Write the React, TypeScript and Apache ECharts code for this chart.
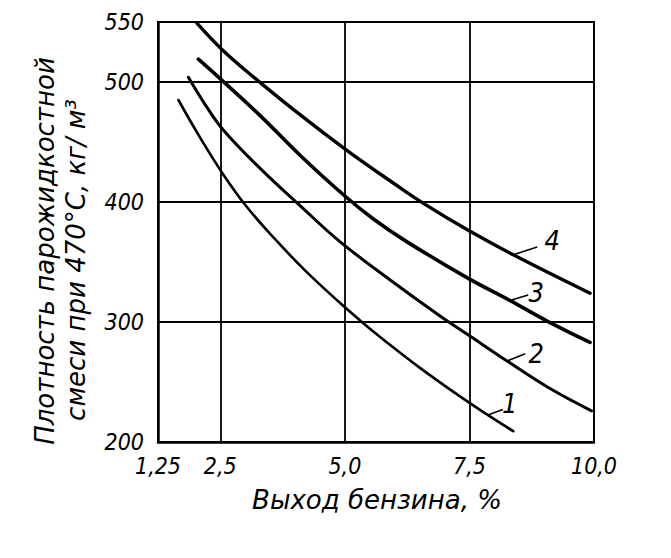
import React, { useEffect, useRef } from "react";
import * as echarts from "echarts";

// ---- Axes ----
const xTickValues = [1.25, 2.5, 5, 7.5, 10];
const xTickLabels = ["1,25", "2,5", "5,0", "7,5", "10,0"];
const yTickValues = [200, 300, 400, 500, 550];
const xAxisTitle = "Выход бензина, %";
const yAxisTitleLine1 = "Плотность парожидкостной";
const yAxisTitleLine2 = "смеси при 470°С, кг/ м³";

// ---- Curves (x = выход бензина, %, y = плотность, кг/м³) ----
const curveNames = ["1", "2", "3", "4"];
const curve1X = [1.66, 2.09, 2.56, 3.03, 3.6, 4.2, 4.9, 5.37, 5.77, 6.5, 7.31, 7.85, 8.38];
const curve1Y = [485, 454, 423, 396, 369, 343, 316, 299, 285.5, 262, 238, 223, 209];
const curve2X = [1.86, 2.2, 2.56, 3.3, 4.1, 4.9, 5.91, 6.91, 7.45, 8.31, 9.1, 9.95];
const curve2Y = [504, 481, 460, 428, 397, 367, 335, 305, 290, 266, 245, 226];
const curve3X = [2.06, 2.49, 3.3, 4.1, 5.0, 5.6, 6.24, 7.45, 8.31, 9.05, 9.92];
const curve3Y = [519, 503, 472, 439, 405, 385, 367, 337, 318, 301, 283];
const curve4X = [2.03, 2.56, 3.2, 3.97, 5.04, 6.0, 6.61, 7.45, 8.38, 9.92];
const curve4Y = [549, 526, 503, 477, 443, 415, 398, 377, 356, 324];

// leader lines and numbers (data coordinates)
const leaderStart = [[7.87, 222.5], [8.25, 267.5], [8.31, 318], [8.38, 356]];
const leaderEnd = [[8.17, 227], [8.62, 273.5], [8.68, 322.5], [8.86, 362.5]];
const labelAt = [[8.31, 232.5], [8.84, 273.5], [8.84, 325], [9.16, 368]];

const curvesX = [curve1X, curve2X, curve3X, curve4X];
const curvesY = [curve1Y, curve2Y, curve3Y, curve4Y];
const curveWidths = [2.6, 3, 3.6, 3.4];

const INK = "#000";
const FONT = "'DejaVu Sans Condensed', 'DejaVu Sans', sans-serif";
const FONT_WIDE = "'DejaVu Sans', sans-serif";

export default function App() {
  const ref = useRef<HTMLDivElement>(null);

  useEffect(() => {
    if (!ref.current) return;
    const chart = echarts.init(ref.current, undefined, { renderer: "svg" });

    const series: any[] = curveNames.map((name, i) => ({
      name,
      type: "line",
      data: curvesX[i].map((x, j) => [x, curvesY[i][j]]),
      showSymbol: false,
      smooth: 0.4,
      lineStyle: { color: INK, width: curveWidths[i], cap: "round" },
      z: 5,
      markLine: {
        silent: true,
        symbol: ["none", "none"],
        label: { show: false },
        lineStyle: { color: INK, width: 1.6, type: "solid" },
        data: [[{ coord: leaderStart[i] }, { coord: leaderEnd[i] }]],
      },
      markPoint: {
        silent: true,
        symbol: "circle",
        symbolSize: 1,
        itemStyle: { color: "rgba(0,0,0,0)" },
        label: {
          show: true,
          position: "inside",
          formatter: "{b}",
          color: INK,
          fontSize: 27,
          fontStyle: "italic",
          fontFamily: FONT,
        },
        data: [{ name, coord: labelAt[i] }],
      },
    }));

    chart.setOption({
      animation: false,
      backgroundColor: "#fff",
      grid: {
        left: 158,
        right: 77,
        top: 22,
        bottom: 116,
        show: true,
        borderColor: INK,
        borderWidth: 2,
        outerBoundsMode: "none",
      },
      xAxis: {
        type: "value",
        min: 1.25,
        max: 10,
        axisLine: { show: true, lineStyle: { color: INK, width: 2.5 } },
        axisTick: { show: false, customValues: xTickValues },
        axisLabel: {
          customValues: xTickValues,
          formatter: (v: number) => {
            const k = xTickValues.findIndex((t) => Math.abs(t - v) < 1e-6);
            return k >= 0 ? xTickLabels[k] : "";
          },
          color: INK,
          fontSize: 23,
          fontStyle: "italic",
          fontFamily: FONT,
          margin: 12,
        },
        splitLine: { show: true, lineStyle: { color: INK, width: 1.8 } },
      },
      yAxis: {
        type: "value",
        min: 200,
        max: 550,
        axisLine: { show: true, lineStyle: { color: INK, width: 2.5 } },
        axisTick: { show: false, customValues: yTickValues },
        axisLabel: {
          customValues: yTickValues,
          color: INK,
          fontSize: 23,
          fontStyle: "italic",
          fontFamily: FONT,
          margin: 14,
        },
        splitLine: { show: true, lineStyle: { color: INK, width: 1.8 } },
      },
      graphic: [
        {
          type: "text",
          x: 377,
          y: 500,
          style: {
            text: xAxisTitle,
            fill: INK,
            font: `italic 26px ${FONT_WIDE}`,
            textAlign: "center",
            textVerticalAlign: "middle",
          },
        },
        {
          type: "text",
          x: 45,
          y: 251,
          rotation: Math.PI / 2,
          style: {
            text: yAxisTitleLine1,
            fill: INK,
            font: `italic 26px ${FONT_WIDE}`,
            textAlign: "center",
            textVerticalAlign: "middle",
          },
        },
        {
          type: "text",
          x: 76,
          y: 260,
          rotation: Math.PI / 2,
          style: {
            text: yAxisTitleLine2,
            fill: INK,
            font: `italic 26px ${FONT_WIDE}`,
            textAlign: "center",
            textVerticalAlign: "middle",
          },
        },
      ],
      series,
    });

    return () => chart.dispose();
  }, []);

  return (
    <div
      ref={ref}
      style={{ position: "fixed", left: 0, top: 0, width: 671, height: 558, background: "#fff" }}
    />
  );
}
